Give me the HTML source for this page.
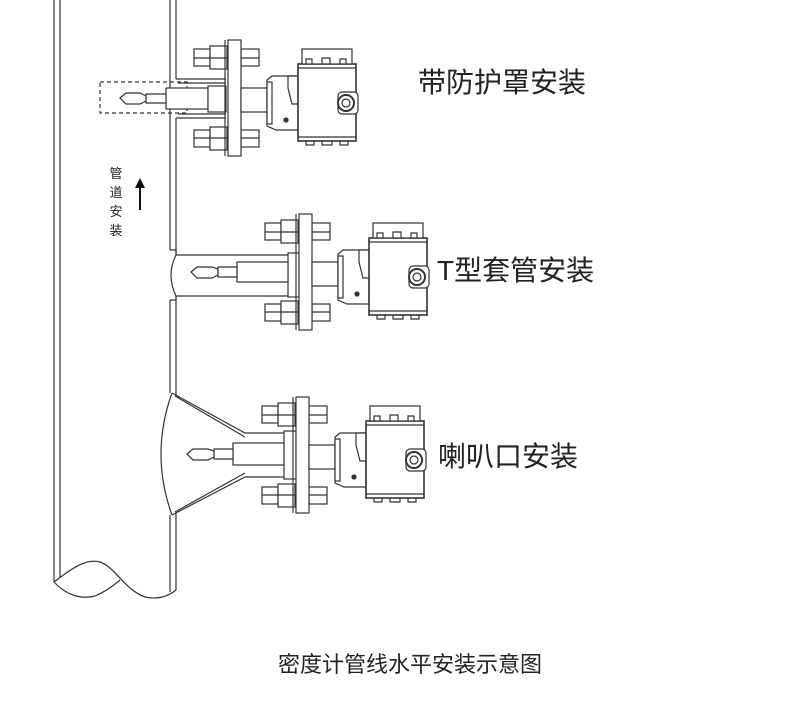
<!DOCTYPE html>
<html><head><meta charset="utf-8"><style>
html,body{margin:0;padding:0;background:#fff;}
svg{display:block;}
text{font-family:"Liberation Sans","Noto Sans CJK SC",sans-serif;fill:#222;}
</style></head><body>
<svg width="790" height="719" viewBox="0 0 790 719" xmlns="http://www.w3.org/2000/svg">
<defs>
<g id="asm" fill="#fff" stroke="#333" stroke-width="1.2">
  <rect x="-34" y="-49" width="16" height="17"/><rect x="-18" y="-52" width="17" height="23"/><line x1="-34" y1="-40" x2="-1" y2="-40"/>
  <rect x="-34" y="32" width="16" height="17"/><rect x="-18" y="29" width="17" height="23"/><line x1="-34" y1="40" x2="-1" y2="40"/>
  <rect x="13" y="-49" width="18" height="17"/><line x1="13" y1="-40" x2="31" y2="-40"/>
  <rect x="13" y="32" width="18" height="17"/><line x1="13" y1="40" x2="31" y2="40"/>
  <rect x="0" y="-58" width="13" height="116"/>
  <line x1="-3" y1="-58" x2="-3" y2="58"/>
  <rect x="13" y="-10" width="26" height="24"/>
  <path d="M39,-18 L44,-22 L70,-22 L70,32 L48,32 L39,28 Z"/>
  <rect x="39" y="-16" width="5" height="42"/>
  <path d="M60,-22 L70,-22 L72,6 L64,6 L60,-10 Z"/>
  <circle cx="58" cy="22" r="2" fill="#333"/>
  <rect x="70" y="-34" width="58" height="77" stroke-width="1.6"/>
  <rect x="74" y="-49" width="50" height="15"/>
  <path d="M70,-30 h58 M70,39 h58" fill="none"/>
  <path d="M78,-34 v-5 h6 v5 M94,-34 v-6 h8 v6 M112,-34 v-5 h6 v5" fill="none"/>
  <path d="M78,43 v4 h8 v-4 M94,43 v4 h10 v-4 M112,43 v4 h8 v-4" fill="none"/>
  <rect x="110" y="-6" width="20" height="22" rx="4"/>
  <circle cx="118" cy="5" r="8" stroke-width="2"/>
  <circle cx="118" cy="5" r="4"/>
</g>
</defs>
<g fill="none" stroke="#333" stroke-width="1.2">
  <line x1="54" y1="0" x2="54" y2="582"/>
  <line x1="60" y1="0" x2="60" y2="578"/>
  <path d="M170,0 V250 M176,0 V79 M176,118 V255 M170,300 V393 M176,296 V395 M170,515 V592 M176,513 V590"/>
  <path d="M54,582 C70,570 85,558 100,562 C115,567 125,590 145,597 C160,600 170,595 176,590"/>
  <path d="M54,582 C65,594 80,600 95,596 C105,592 113,586 120,580"/>
  <path d="M176,79 H226 M176,118 H226 M178,83 H226 M178,114 H226"/>
  <rect x="100" y="82" width="87" height="31" stroke-dasharray="4,3"/>
  <rect x="166" y="88" width="42" height="21" fill="#fff"/>
  <rect x="208" y="86" width="18" height="26" fill="#fff"/>
  <path d="M146,94 H166 V103 H146 Z" fill="#fff"/>
  <path d="M120,98 L126,93 H140 L146,96 V101 L140,104 H126 Z" fill="#fff"/>
  <path d="M170,250 H176 V255 H296 M170,300 H176 V296 H296 M176,255 Q166,275 176,296"/>
  <rect x="288" y="253" width="11" height="44" fill="#fff"/>
  <rect x="237" y="262" width="51" height="20" fill="#fff"/>
  <path d="M218,267 H237 V277 H218 Z" fill="#fff"/>
  <path d="M191,272 L197,267 H212 L218,269 V275 L212,278 H197 Z" fill="#fff"/>
  <path d="M172,393 L245,433 H287 M172,515 L245,477 H287 M175,396 L245,437 M175,512 L245,473"/>
  <path d="M172,393 Q150,454 172,515"/>
  <rect x="284" y="431" width="12" height="48" fill="#fff"/>
  <rect x="233" y="443" width="51" height="22" fill="#fff"/>
  <path d="M214,449 H233 V459 H214 Z" fill="#fff"/>
  <path d="M187,454 L193,449 H208 L214,451 V457 L208,460 H193 Z" fill="#fff"/>
</g>
<use href="#asm" x="228" y="98"/>
<use href="#asm" x="299" y="272"/>
<use href="#asm" x="296" y="455"/>
<line x1="140" y1="210" x2="140" y2="186" stroke="#111" stroke-width="2"/>
<path d="M135,188 L140,178 L145,188 Z" fill="#111"/>
<text x="116" y="178" font-size="13" text-anchor="middle">管</text>
<text x="116" y="197" font-size="13" text-anchor="middle">道</text>
<text x="116" y="216" font-size="13" text-anchor="middle">安</text>
<text x="116" y="235" font-size="13" text-anchor="middle">装</text>
<text x="418" y="92" font-size="28">带防护罩安装</text>
<text x="437" y="280" font-size="28">T型套管安装</text>
<text x="438" y="466" font-size="28">喇叭口安装</text>
<text x="410" y="672" font-size="22" text-anchor="middle">密度计管线水平安装示意图</text>
</svg>
</body></html>
